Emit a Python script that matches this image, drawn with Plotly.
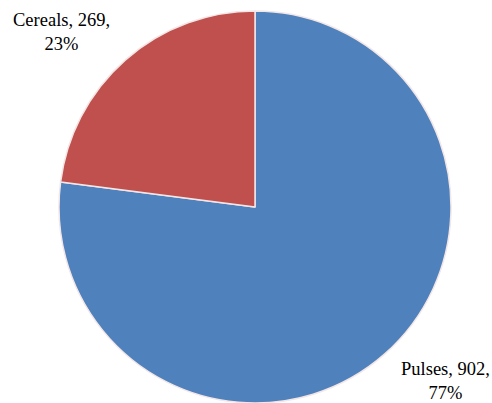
import plotly.graph_objects as go

categories = ["Pulses", "Cereals"]
values = [902, 269]
percents = ["77%", "23%"]
colors = ["#4F81BD", "#C0504D"]

W, H = 492, 403
cx, cy, r = 255, 207, 196

fig = go.Figure()
fig.add_trace(go.Pie(
    labels=categories, values=values, sort=False, direction="clockwise",
    rotation=0, textinfo="none", hoverinfo="label+value+percent",
    marker=dict(colors=colors, line=dict(color="#F3E6E6", width=1.5)),
    domain=dict(x=[(cx - r) / W, (cx + r) / W],
                y=[(H - cy - r) / H, (H - cy + r) / H]),
    showlegend=False,
))

label_pos = {"Pulses": (445, 381), "Cereals": (61, 32)}
for cat, val, pct in zip(categories, values, percents):
    px, py = label_pos[cat]
    fig.add_annotation(
        x=px / W, y=1 - py / H, xref="paper", yref="paper",
        text=f"{cat}, {val},<br>{pct}", showarrow=False, align="center",
        font=dict(family="Liberation Serif", size=18.5, color="black"),
        xanchor="center", yanchor="middle",
    )

fig.update_layout(width=W, height=H, margin=dict(l=0, r=0, t=0, b=0),
                  paper_bgcolor="white", plot_bgcolor="white")
fig.write_html("out.html")
